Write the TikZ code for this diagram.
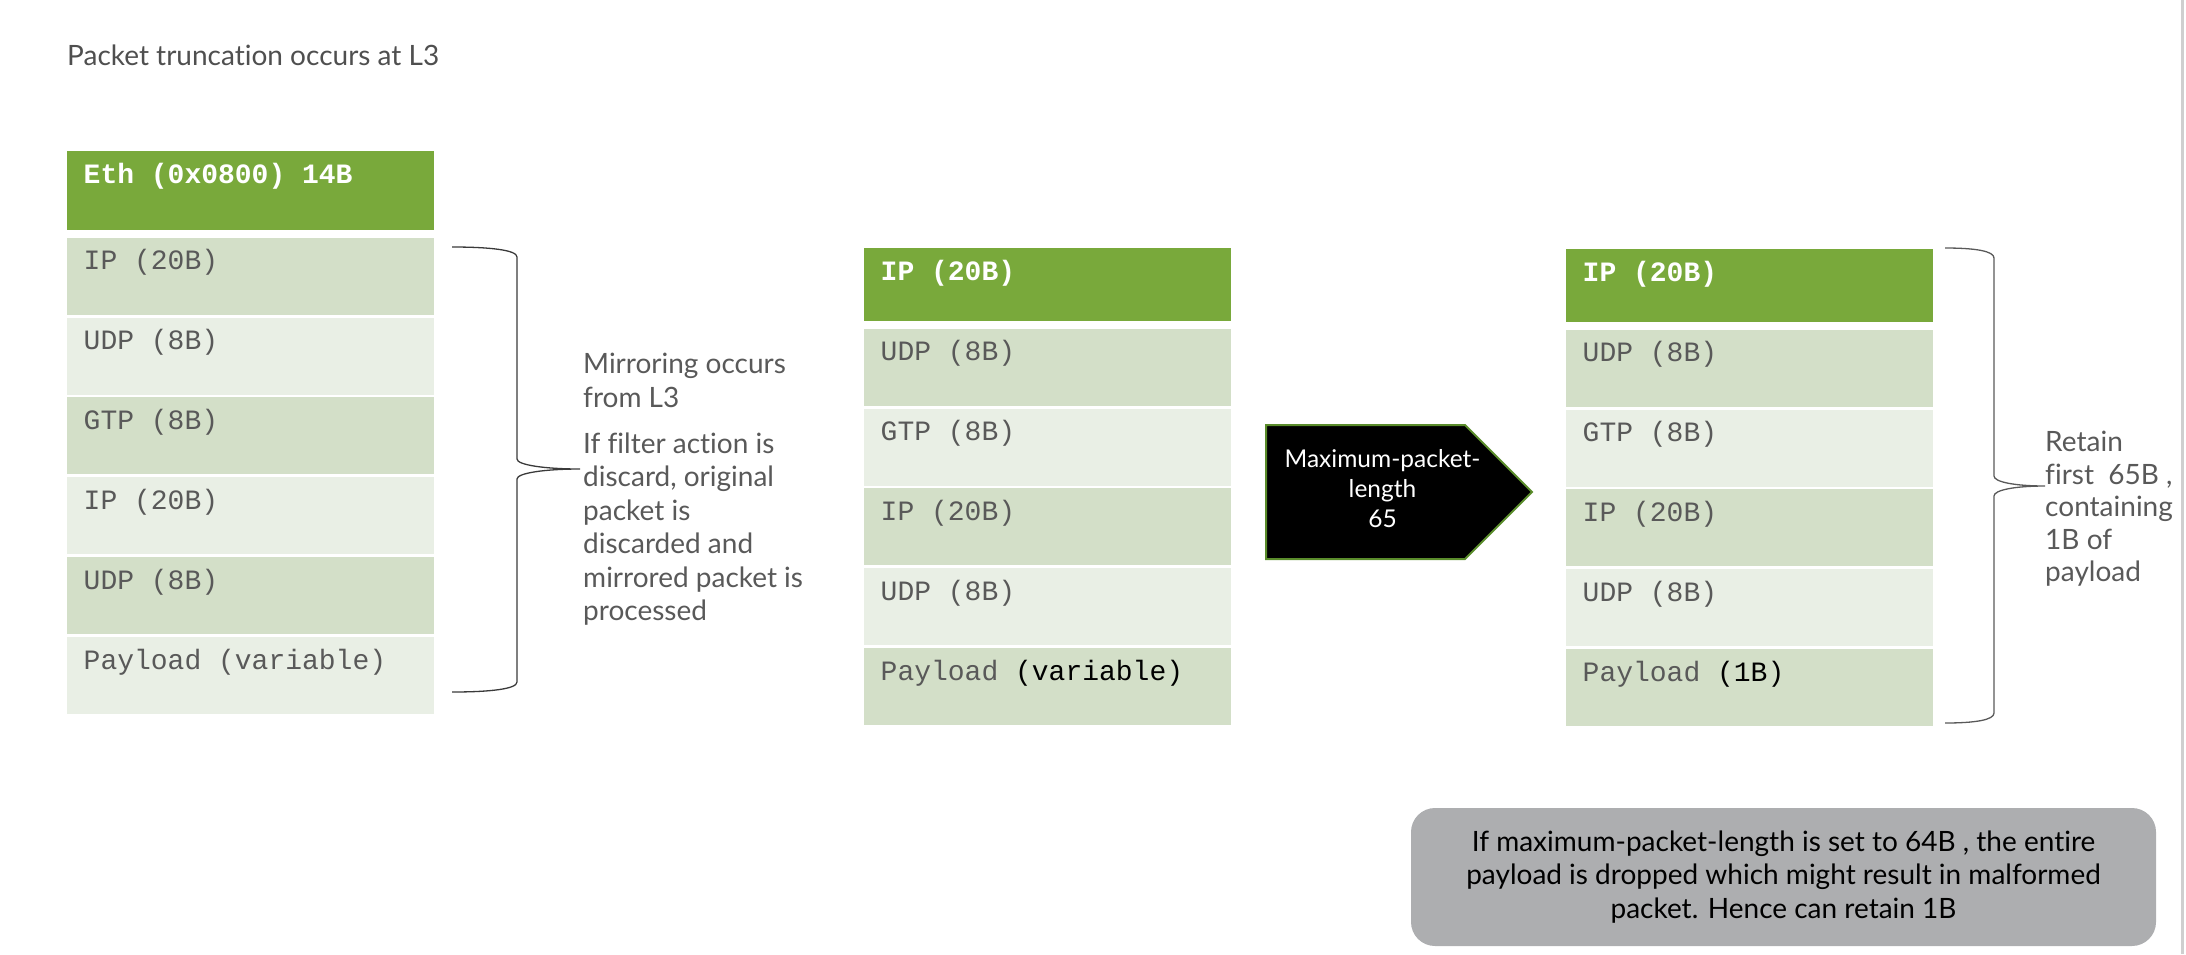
\documentclass[tikz,border=0pt]{standalone}
\usepackage{fontspec}
\setmainfont{Lato}[Ligatures=NoCommon]
\setmonofont{Liberation Mono}
\usetikzlibrary{positioning}

\definecolor{headgreen}{HTML}{79A93B}
\definecolor{darkrow}{HTML}{D3DFC8}
\definecolor{lightrow}{HTML}{E9EFE5}
\definecolor{rowtext}{HTML}{595959}
\definecolor{titletext}{HTML}{4F4F4F}
\definecolor{notegray}{HTML}{ADAEB0}
\definecolor{arrowedge}{HTML}{5A8C2B}
\definecolor{bracegray}{HTML}{3A3A3A}
\definecolor{edgegray}{HTML}{CFCFCF}

\begin{document}
\begin{tikzpicture}[x=1pt, y=1pt, node distance=2.5pt,
    row node/.style={inner xsep=16.5pt, inner ysep=0pt, text width=334pt, align=left,
                     text height=32pt, text depth=45pt, text=rowtext,
                     font=\ttfamily\fontsize{28}{30}\selectfont,
                     execute at begin node={\spaceskip=0pt\xspaceskip=0pt}},
    head node/.style={row node, fill=headgreen, text=white, text depth=41pt,
                      font=\ttfamily\bfseries\fontsize{28}{30}\selectfont},
    dark node/.style={row node, fill=darkrow},
    light node/.style={row node, fill=lightrow},
    side text/.style={inner sep=0pt, align=left, text=rowtext,
                      font=\fontsize{28}{33.5}\selectfont},
    brace line/.style={line width=1.3pt, draw=bracegray},
    arrow shape/.style={fill=black, draw=arrowedge, line width=2pt},
    arrow text/.style={text=white, align=center, font=\fontsize{24.5}{30}\selectfont},
    note node/.style={fill=notegray, rounded corners=24pt, minimum width=745pt,
                      minimum height=138pt, align=center, text=black,
                      font=\fontsize{28}{33.5}\selectfont}]

  \useasboundingbox (0,0) rectangle (2186,-954);

  \node[text=titletext, anchor=base west, inner sep=0pt, font=\fontsize{28}{33}\selectfont]
       (title) at (67,-65) {Packet truncation occurs at L3};

  % original packet
  \node[head node, text depth=47pt, anchor=north west] (a0) at (67,-151) {Eth (0x0800) 14B};
  \node[dark node, below=7pt of a0] (a1) {IP (20B)};
  \node[light node, below=of a1] (a2) {UDP (8B)};
  \node[dark node, below=of a2] (a3) {GTP (8B)};
  \node[light node, below=of a3] (a4) {IP (20B)};
  \node[dark node, below=of a4] (a5) {UDP (8B)};
  \node[light node, below=of a5] (a6) {Payload (variable)};

  \draw[brace line] (452,-247) .. controls (490,-247) and (517,-250) .. (517,-257)
    -- (517,-459) .. controls (517,-465) and (545,-469) .. (580,-469)
    .. controls (545,-469) and (517,-473) .. (517,-479)
    -- (517,-682) .. controls (517,-689) and (490,-692) .. (452,-692);

  \node[side text, anchor=north west] (mirror) at (583,-353)
       {Mirroring occurs\\from L3\\[12.5pt]If filter action is\\discard, original\\packet is\\discarded and\\mirrored packet is\\processed};

  % mirrored packet
  \node[head node, anchor=north west] (b0) at (864,-248) {IP (20B)};
  \node[dark node, below=7pt of b0] (b1) {UDP (8B)};
  \node[light node, below=of b1] (b2) {GTP (8B)};
  \node[dark node, below=of b2] (b3) {IP (20B)};
  \node[light node, below=of b3] (b4) {UDP (8B)};
  \node[dark node, below=of b4] (b5) {Payload \textcolor{black}{(variable)}};

  \draw[arrow shape] (1266,-425) -- (1465,-425) -- (1532,-492) -- (1465,-559) -- (1266,-559) -- cycle;
  \node[arrow text] (maxlen) at (1382.5,-489) {Maximum-packet-\\length\\65};

  % truncated packet
  \node[head node, anchor=north west] (c0) at (1566,-249) {IP (20B)};
  \node[dark node, below=7pt of c0] (c1) {UDP (8B)};
  \node[light node, below=of c1] (c2) {GTP (8B)};
  \node[dark node, below=of c2] (c3) {IP (20B)};
  \node[light node, below=of c3] (c4) {UDP (8B)};
  \node[dark node, below=of c4] (c5) {Payload \textcolor{black}{(1B)}};

  \draw[brace line, draw=rowtext] (1945,-248) .. controls (1975,-248) and (1994,-251) .. (1994,-258)
    -- (1994,-476) .. controls (1994,-482) and (2015,-486) .. (2045,-486)
    .. controls (2015,-486) and (1994,-490) .. (1994,-496)
    -- (1994,-713) .. controls (1994,-720) and (1975,-723) .. (1945,-723);

  \node[side text, anchor=north west, font=\fontsize{28}{32.5}\selectfont] (retain) at (2045,-431)
       {Retain\\first\ \ 65B ,\\containing\\1B of\\payload};

  \node[note node] (note) at (1783.5,-877)
       {If maximum-packet-length is set to 64B , the entire\\payload is dropped which might result in malformed\\packet. Hence can retain 1B};

  \draw[line width=3pt, draw=edgegray] (2182,0) -- (2182,-954);

\end{tikzpicture}
\end{document}
